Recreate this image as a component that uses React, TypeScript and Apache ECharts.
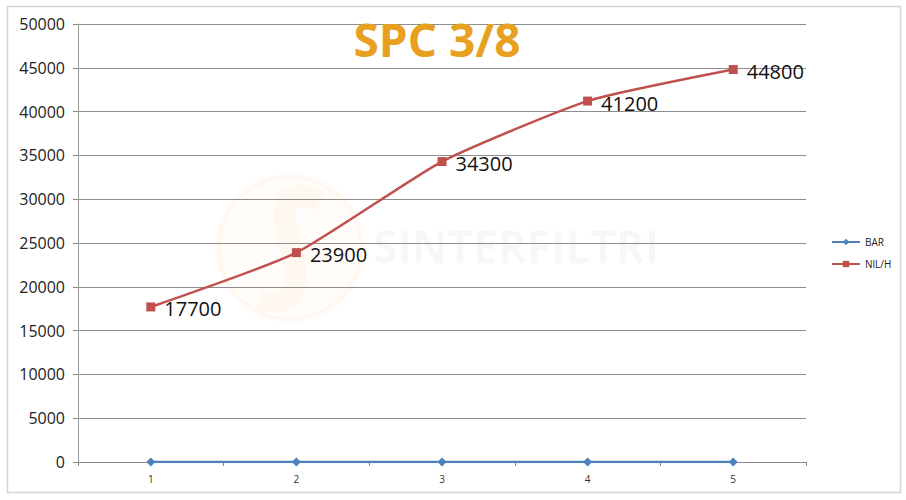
import React, { useEffect, useRef } from "react";
import * as echarts from "echarts";

const categories = ["1", "2", "3", "4", "5"];
const barValues = [0, 0, 0, 0, 0];
const flowValues = [17700, 23900, 34300, 41200, 44800];
const seriesNames = ["BAR", "NlL/H"];
const titleText = "SPC 3/8";
const watermarkText = "SINTERFILTRI";

export default function App() {
  const ref = useRef<HTMLDivElement>(null);
  useEffect(() => {
    if (!ref.current) return;
    const chart = echarts.init(ref.current, undefined, { renderer: "svg" });
    chart.setOption({
      animation: false,
      backgroundColor: "#ffffff",
      title: {
        text: titleText,
        left: 432,
        top: 11,
        textAlign: "center",
        textStyle: {
          fontFamily: "Open Sans",
          fontWeight: "bold",
          fontSize: 46,
          color: "#E8A020",
        },
      },
      graphic: [
        {
          type: "rect",
          shape: { x: 7.5, y: 6.5, width: 893, height: 486 },
          style: { fill: "none", stroke: "#d4d4d4", lineWidth: 1.5 },
          silent: true,
          z: 0,
        },
        {
          type: "circle",
          shape: { cx: 290, cy: 248, r: 72 },
          style: { fill: "rgba(250,190,110,0.04)", stroke: "rgba(250,190,110,0.07)", lineWidth: 5 },
          silent: true,
          z: 0,
        },
        {
          type: "bezierCurve",
          shape: { x1: 320, y1: 200, cpx1: 230, cpy1: 170, cpx2: 350, cpy2: 320, x2: 260, y2: 300 },
          style: { fill: "none", stroke: "rgba(250,190,110,0.06)", lineWidth: 22 },
          silent: true,
          z: 0,
        },
        {
          type: "text",
          x: 373,
          y: 246,
          style: {
            text: watermarkText,
            fontFamily: "Open Sans",
            fontWeight: "bold",
            fontSize: 44,
            fill: "rgba(0,0,0,0.035)",
            align: "left",
            verticalAlign: "middle",
          },
          silent: true,
          z: 0,
        },
      ],
      legend: {
        orient: "vertical",
        left: 826,
        top: 232,
        itemWidth: 28,
        itemHeight: 8,
        itemGap: 12,
        textStyle: { fontFamily: "Open Sans", fontSize: 10, color: "#222" },
        data: seriesNames,
      },
      grid: { left: 78, right: 100, top: 24, bottom: 38, containLabel: false },
      xAxis: {
        type: "category",
        data: categories,
        boundaryGap: true,
        axisLine: { show: true, lineStyle: { color: "#888", width: 1 } },
        axisTick: { show: true, alignWithLabel: false, length: 4, lineStyle: { color: "#888" } },
        axisLabel: { fontFamily: "Open Sans", fontSize: 10, color: "#333", margin: 12 },
        splitLine: { show: false },
      },
      yAxis: {
        type: "value",
        min: 0,
        max: 50000,
        interval: 5000,
        axisLine: { show: true, lineStyle: { color: "#999", width: 1 } },
        axisTick: { show: true, length: 5, lineStyle: { color: "#888" } },
        axisLabel: {
          fontFamily: "Open Sans",
          fontSize: 16,
          color: "#222",
          margin: 13,
          formatter: (v: number) => String(v),
        },
        splitLine: { show: true, lineStyle: { color: "#8c8c8c", width: 1 } },
      },
      series: [
        {
          name: seriesNames[0],
          type: "line",
          data: barValues,
          symbol: "diamond",
          symbolSize: 9,
          itemStyle: { color: "#4F81BD" },
          lineStyle: { color: "#4F81BD", width: 2.5 },
          z: 3,
        },
        {
          name: seriesNames[1],
          type: "line",
          data: flowValues,
          smooth: 0.18,
          symbol: "rect",
          symbolSize: 9,
          itemStyle: { color: "#C0504D" },
          lineStyle: { color: "#C0504D", width: 2.5 },
          label: {
            show: true,
            position: "right",
            distance: 9,
            offset: [0, 2],
            fontFamily: "Open Sans",
            fontSize: 20,
            color: "#111",
          },
          z: 4,
        },
      ],
    });
    return () => chart.dispose();
  }, []);
  return (
    <div
      ref={ref}
      style={{ position: "fixed", left: 0, top: 0, width: 906, height: 500 }}
    />
  );
}
